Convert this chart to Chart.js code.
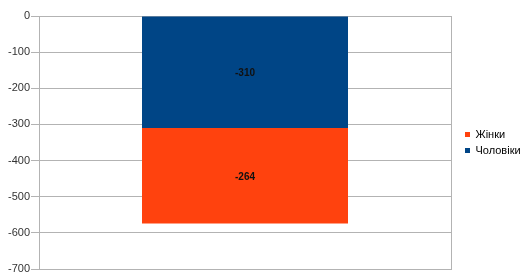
<!DOCTYPE html>
<html>
<head>
<meta charset="utf-8">
<script src="https://cdn.jsdelivr.net/npm/chart.js@4/dist/chart.umd.min.js"></script>
<style>
html,body{margin:0;padding:0;background:#fff;}
#wrap{width:524px;height:272px;position:relative;}
</style>
</head>
<body>
<div id="wrap"><canvas id="c" width="524" height="272"></canvas></div>
<script>
const categories = [''];
const seriesNames = ['Чоловіки', 'Жінки'];
const menValues = [-310];
const womenValues = [-264];
const yTicks = [0, -100, -200, -300, -400, -500, -600, -700];

const FONT = "'Liberation Sans', Arial, sans-serif";
const GRID = '#b3b3b3';

const labelPlugin = {
  id: 'barLabels',
  afterDatasetsDraw(chart) {
    const ctx = chart.ctx;
    ctx.save();
    ctx.font = 'bold 10px ' + FONT;
    ctx.fillStyle = '#111111';
    ctx.textAlign = 'center';
    ctx.textBaseline = 'middle';
    chart.data.datasets.forEach((ds, i) => {
      const meta = chart.getDatasetMeta(i);
      meta.data.forEach((el, j) => {
        const p = el.getCenterPoint();
        ctx.fillText(String(ds.data[j]), p.x, p.y + 1);
      });
    });
    ctx.restore();
  }
};

new Chart(document.getElementById('c'), {
  type: 'bar',
  data: {
    labels: categories,
    datasets: [
      { label: seriesNames[0], data: menValues, backgroundColor: '#004586', borderWidth: 0 },
      { label: seriesNames[1], data: womenValues, backgroundColor: '#ff420e', borderWidth: 0 }
    ]
  },
  options: {
    responsive: false,
    animation: false,
    devicePixelRatio: 1,
    layout: { padding: { left: 0, top: 16, bottom: 3, right: 0 } },
    datasets: { bar: { categoryPercentage: 1, barPercentage: 0.5 } },
    plugins: {
      tooltip: { enabled: false },
      legend: {
        position: 'right',
        reverse: true,
        maxWidth: 64,
        labels: {
          boxWidth: 5,
          boxHeight: 5,
          padding: 5,
          color: '#000000',
          font: { size: 11, family: FONT }
        }
      }
    },
    scales: {
      x: {
        stacked: true,
        offset: true,
        ticks: { display: false },
        grid: { display: true, color: GRID, drawTicks: false },
        border: { display: true, color: GRID },
        afterFit(s) { s.height = 0; s.paddingLeft = 0; s.paddingRight = 0; }
      },
      y: {
        stacked: true,
        min: yTicks[yTicks.length - 1],
        max: yTicks[0],
        afterBuildTicks(s) { s.ticks = yTicks.map(v => ({ value: v })); },
        ticks: {
          color: '#333333',
          padding: 1,
          font: { size: 11, family: FONT }
        },
        grid: { color: GRID, tickLength: 8, drawTicks: true },
        border: { display: true, color: GRID },
        afterFit(s) { s.width = 39; s.paddingTop = 0; s.paddingBottom = 0; }
      },
      yR: {
        position: 'right',
        display: true,
        ticks: { display: false },
        grid: { display: false },
        border: { display: false },
        afterFit(s) { s.width = 9; s.paddingTop = 0; s.paddingBottom = 0; }
      }
    }
  },
  plugins: [labelPlugin]
});
</script>
</body>
</html>
